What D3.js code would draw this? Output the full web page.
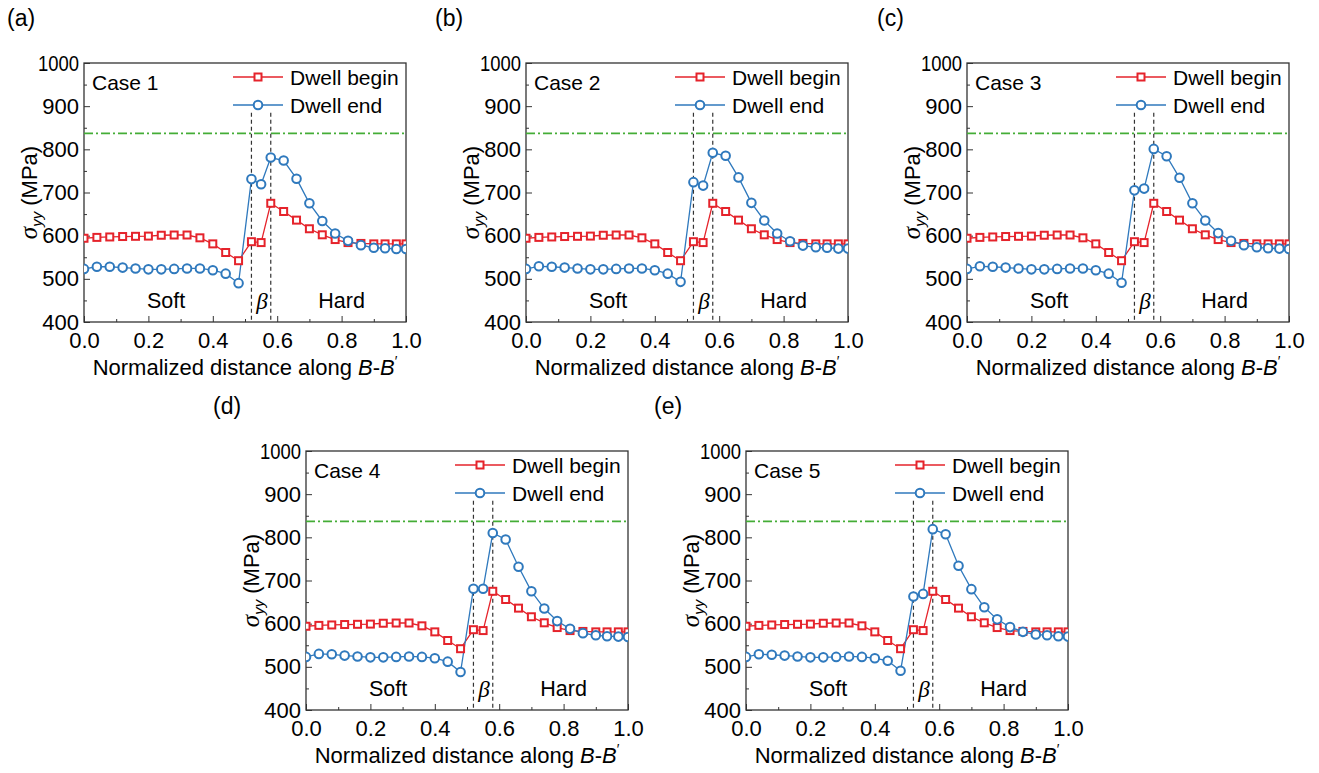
<!DOCTYPE html>
<html>
<head>
<meta charset="utf-8">
<script src="https://cdn.jsdelivr.net/npm/d3@7"></script>
<style>
  html, body { margin: 0; padding: 0; background: #ffffff; }
  svg { display: block; }
  text { font-family: "Liberation Sans", Arial, sans-serif; fill: #000; }
</style>
</head>
<body>
<svg id="chart" width="1319" height="773"></svg>
<script>
// ---------------- data ----------------
const xPositions = [0, 0.04, 0.08, 0.12, 0.16, 0.20, 0.24, 0.28, 0.32, 0.36, 0.40, 0.44, 0.48,
                    0.52, 0.55, 0.58, 0.62, 0.66, 0.70, 0.74, 0.78, 0.82, 0.86, 0.90, 0.935, 0.97, 1.0];

const dwellBegin = [594, 596, 597, 598, 598.5, 599, 601, 601.5, 601.5, 595, 581, 561, 542,
                    586, 584, 675, 656, 636, 616, 602, 591, 584, 582, 581, 581, 581, 581];

const dwellEndCase1 = [523, 528, 528, 526, 524, 522, 522, 523, 524, 524, 520, 512, 490,
                       731, 719, 781, 774, 732, 675, 634, 605, 588, 578, 572, 571, 569, 569];
const dwellEndCase2 = [523, 529, 528, 526, 524, 522, 522, 523, 524, 524, 520, 512, 493,
                       724, 716, 792, 785, 735, 676, 635, 605, 587, 577, 573, 572, 570, 570];
const dwellEndCase3 = [523, 529, 528, 526, 524, 522, 522, 523, 524, 524, 520, 512, 491,
                       705, 709, 801, 784, 734, 675, 635, 606, 588, 578, 573, 571, 570, 569];
const dwellEndCase4 = [523, 530, 529, 526, 524, 522, 522, 523, 524, 523, 520, 512, 488,
                       681, 681, 810, 795, 732, 675, 635, 606, 588, 578, 573, 571, 570, 569];
const dwellEndCase5 = [523, 529, 528, 526, 524, 522, 522, 523, 524, 523, 520, 514, 491,
                       663, 669, 819, 807, 734, 680, 638, 610, 592, 581, 575, 573, 571, 570];

const caseNames = ["Case 1", "Case 2", "Case 3", "Case 4", "Case 5"];
const panelLetters = ["(a)", "(b)", "(c)", "(d)", "(e)"];
const seriesNames = ["Dwell begin", "Dwell end"];
const xTicks = [0, 0.2, 0.4, 0.6, 0.8, 1.0];
const yTicks = [400, 500, 600, 700, 800, 900, 1000];
const yieldLevel = [837];
const betaBounds = [0.52, 0.58];
const regionLabels = ["Soft", "β", "Hard"];

const dwellEnd = [dwellEndCase1, dwellEndCase2, dwellEndCase3, dwellEndCase4, dwellEndCase5];

// ---------------- layout ----------------
const panels = [
  {left: 84,  top: 63,  labelX: 7},
  {left: 526, top: 63,  labelX: 435},
  {left: 967, top: 63,  labelX: 877},
  {left: 306, top: 451, labelX: 213},
  {left: 746, top: 451, labelX: 654}
];
const W = 322, H = 259;
const RED = "#e5232b", BLUE = "#2f79bd", GREEN = "#44ad37";

const svg = d3.select("#chart");
const x = d3.scaleLinear().domain([0, 1]).range([0, W]);
const y = d3.scaleLinear().domain([400, 1000]).range([H, 0]);

panels.forEach((p, i) => {
  const g = svg.append("g").attr("transform", `translate(${p.left},${p.top})`);

  // panel label
  svg.append("text").attr("x", p.labelX).attr("y", p.top - 37)
    .attr("font-size", 23).text(panelLetters[i]);

  const clipId = "clip" + i;
  g.append("clipPath").attr("id", clipId).append("rect")
    .attr("x", 0).attr("y", 0).attr("width", W).attr("height", H);

  // axes (inward ticks)
  const xAxis = g.append("g").attr("transform", `translate(0,${H})`)
    .call(d3.axisBottom(x).tickValues(xTicks).tickFormat(d3.format(".1f")).tickSize(-6).tickPadding(10));
  g.append("g").attr("transform", `translate(0,${H})`)
    .call(d3.axisBottom(x).tickValues(d3.range(0.1, 1, 0.2)).tickFormat("").tickSize(-3));
  const yAxis = g.append("g")
    .call(d3.axisLeft(y).tickValues(yTicks).tickFormat(d3.format("d")).tickSize(-6).tickPadding(5));
  g.append("g")
    .call(d3.axisLeft(y).tickValues(d3.range(450, 1000, 100)).tickFormat("").tickSize(-3));
  g.selectAll(".domain").remove();
  g.selectAll(".tick line").attr("stroke", "#333").attr("stroke-width", 1);
  xAxis.selectAll("text").attr("font-size", 22).attr("fill", "#000")
    .attr("font-family", "Liberation Sans, Arial, sans-serif");
  yAxis.selectAll("text").attr("font-size", 22).attr("fill", "#000")
    .attr("font-family", "Liberation Sans, Arial, sans-serif")
    .each(function(d) {
      if (d === 1000) d3.select(this).attr("textLength", 41).attr("lengthAdjust", "spacingAndGlyphs");
    });

  // frame
  g.append("rect").attr("width", W).attr("height", H)
    .attr("fill", "none").attr("stroke", "#333").attr("stroke-width", 1.3);

  // yield line (dash-dot)
  g.selectAll(".yl").data(yieldLevel).enter().append("line")
    .attr("x1", 0).attr("x2", W).attr("y1", d => y(d)).attr("y2", d => y(d))
    .attr("stroke", GREEN).attr("stroke-width", 1.6).attr("stroke-dasharray", "9,3,2,3");

  // beta boundaries
  g.selectAll(".bb").data(betaBounds).enter().append("line")
    .attr("x1", d => x(d)).attr("x2", d => x(d)).attr("y1", y(885)).attr("y2", H)
    .attr("stroke", "#333").attr("stroke-width", 1.2).attr("stroke-dasharray", "4,3");

  // region labels
  g.append("text").attr("x", x(0.255)).attr("y", y(449)).attr("dy", "0.35em")
    .attr("text-anchor", "middle").attr("font-size", 21.5).text(regionLabels[0]);
  g.append("text").attr("x", x(0.553)).attr("y", y(449)).attr("dy", "0.35em")
    .attr("text-anchor", "middle").attr("font-size", 23).attr("font-style", "italic")
    .style("font-family", "Liberation Serif, Times New Roman, serif").text(regionLabels[1]);
  g.append("text").attr("x", x(0.80)).attr("y", y(449)).attr("dy", "0.35em")
    .attr("text-anchor", "middle").attr("font-size", 21.5).text(regionLabels[2]);

  // series
  const dataG = g.append("g").attr("clip-path", `url(#${clipId})`);
  const redPts = xPositions.map((d, k) => [d, dwellBegin[k]]);
  const bluePts = xPositions.map((d, k) => [d, dwellEnd[i][k]]);
  const line = d3.line().x(d => x(d[0])).y(d => y(d[1]));

  dataG.append("path").datum(redPts).attr("d", line)
    .attr("fill", "none").attr("stroke", RED).attr("stroke-width", 1.3);
  dataG.append("path").datum(bluePts).attr("d", line)
    .attr("fill", "none").attr("stroke", BLUE).attr("stroke-width", 1.3);

  dataG.selectAll(".sq").data(redPts).enter().append("rect")
    .attr("x", d => x(d[0]) - 3.5).attr("y", d => y(d[1]) - 3.5)
    .attr("width", 7).attr("height", 7)
    .attr("fill", "#fff").attr("stroke", RED).attr("stroke-width", 2);
  dataG.selectAll(".ci").data(bluePts).enter().append("circle")
    .attr("cx", d => x(d[0])).attr("cy", d => y(d[1])).attr("r", 4.3)
    .attr("fill", "#fff").attr("stroke", BLUE).attr("stroke-width", 2);

  // case label
  g.append("text").attr("x", 8).attr("y", 27).attr("font-size", 21).text(caseNames[i]);

  // legend
  const lg = g.append("g");
  [[RED, 14, "sq"], [BLUE, 42, "ci"]].forEach((s, k) => {
    lg.append("line").attr("x1", 149).attr("x2", 199).attr("y1", s[1]).attr("y2", s[1])
      .attr("stroke", s[0]).attr("stroke-width", 1.3);
    if (s[2] === "sq") {
      lg.append("rect").attr("x", 174 - 3.5).attr("y", s[1] - 3.5).attr("width", 7).attr("height", 7)
        .attr("fill", "#fff").attr("stroke", s[0]).attr("stroke-width", 2);
    } else {
      lg.append("circle").attr("cx", 174).attr("cy", s[1]).attr("r", 4.3)
        .attr("fill", "#fff").attr("stroke", s[0]).attr("stroke-width", 2);
    }
    lg.append("text").attr("x", 206).attr("y", s[1]).attr("dy", "0.36em")
      .attr("font-size", 21).text(seriesNames[k]);
  });

  // y title
  const yt = svg.append("text")
    .attr("transform", `translate(${p.left - 47},${p.top + H / 2}) rotate(-90)`)
    .attr("text-anchor", "middle").attr("font-size", 22);
  yt.append("tspan").attr("font-style", "italic")
    .style("font-family", "Liberation Serif, Times New Roman, serif").attr("font-size", 25).text("σ");
  yt.append("tspan").attr("font-style", "italic").attr("font-size", 15).attr("dy", 5).text("yy");
  yt.append("tspan").attr("dy", -5).text(" (MPa)");

  // x title
  const xt = svg.append("text").attr("x", p.left + W / 2).attr("y", p.top + H + 53)
    .attr("text-anchor", "middle").attr("font-size", 22);
  xt.append("tspan").text("Normalized distance along ");
  xt.append("tspan").attr("font-style", "italic").text("B");
  xt.append("tspan").text("-");
  xt.append("tspan").attr("font-style", "italic").text("B");
  xt.append("tspan").attr("font-size", 14).attr("dy", -9).text("′");
});
</script>
</body>
</html>
